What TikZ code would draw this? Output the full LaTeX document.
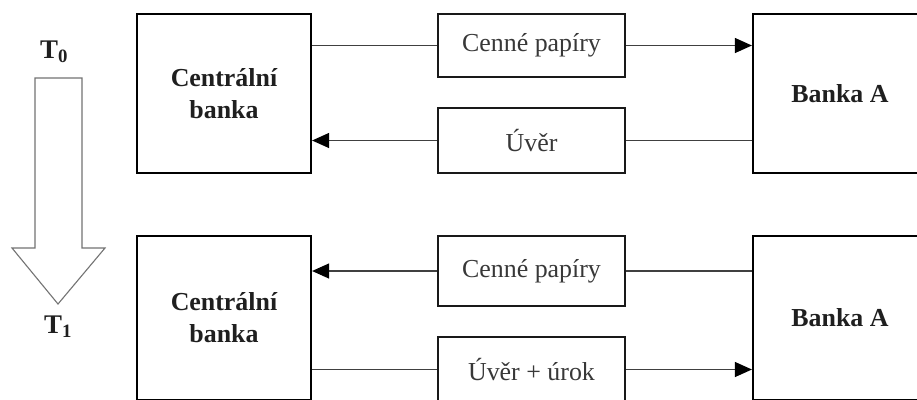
\documentclass[tikz,border=0pt]{standalone}
\usepackage{fontspec}
\setmainfont{Liberation Serif}
\usetikzlibrary{arrows.meta}
\begin{document}
\begin{tikzpicture}[x=1bp,y=-1bp,
  bigbox/.style={draw=black, line width=2.2bp, minimum width=174bp, inner sep=0pt, align=center,
    font=\fontsize{26}{32}\selectfont\bfseries, text=black!88},
  smallbox/.style={draw=black!90, line width=1.7bp, minimum width=187bp, inner sep=0pt,
    font=\fontsize{26}{30}\selectfont, text=black!78},
  conn/.style={draw=black!75, line width=1.2bp},
  tip/.style={-{Triangle[length=17bp,width=15bp,fill=black,color=black]}},
  tlabel/.style={font=\fontsize{27}{30}\selectfont\bfseries, text=black!88, inner sep=0pt}
]
\useasboundingbox (0,0) rectangle (917,399);
\clip (0,0) rectangle (917,399);
\fill[white] (0,0) rectangle (917,399);

% time arrow
\draw[draw=black!55, line width=1.1bp, fill=white]
  (35,78) -- (82,78) -- (82,248) -- (105,248) -- (58,304) -- (12,248) -- (35,248) -- cycle;
\node[tlabel] (t0) at (54,52) {T$_{\mathbf{0}}$};
\node[tlabel] (t1) at (58,327) {T$_{\mathbf{1}}$};

% top row
\node[bigbox, minimum height=159bp] (cb1) at (224,93.5) {Centrální\\banka};
\node[bigbox, minimum height=159bp] (ba1) at (840,93.5) {Banka A};
\node[smallbox, minimum height=63bp] (cp1) at (531.5,45.5) {Cenné papíry};
\node[smallbox, minimum height=65bp] (uv1) at (531.5,140.5) {Úvěr};

\draw[conn] (cp1.west -| cb1.east) -- (cp1.west);
\draw[conn, tip] (cp1.east) -- (cp1.east -| ba1.west);
\draw[conn] (uv1.east -| ba1.west) -- (uv1.east);
\draw[conn, tip] (uv1.west) -- (uv1.west -| cb1.east);

% bottom row
\node[bigbox, minimum height=164bp] (cb2) at (224,318) {Centrální\\banka};
\node[bigbox, minimum height=164bp] (ba2) at (840,318) {Banka A};
\node[smallbox, minimum height=70bp] (cp2) at (531.5,271) {Cenné papíry};
\node[smallbox, minimum height=65bp] (uv2) at (531.5,369.5) {Úvěr + úrok};

\draw[conn] (cp2.east -| ba2.west) -- (cp2.east);
\draw[conn, tip] (cp2.west) -- (cp2.west -| cb2.east);
\draw[conn] (uv2.west -| cb2.east) -- (uv2.west);
\draw[conn, tip] (uv2.east) -- (uv2.east -| ba2.west);
\end{tikzpicture}
\end{document}
